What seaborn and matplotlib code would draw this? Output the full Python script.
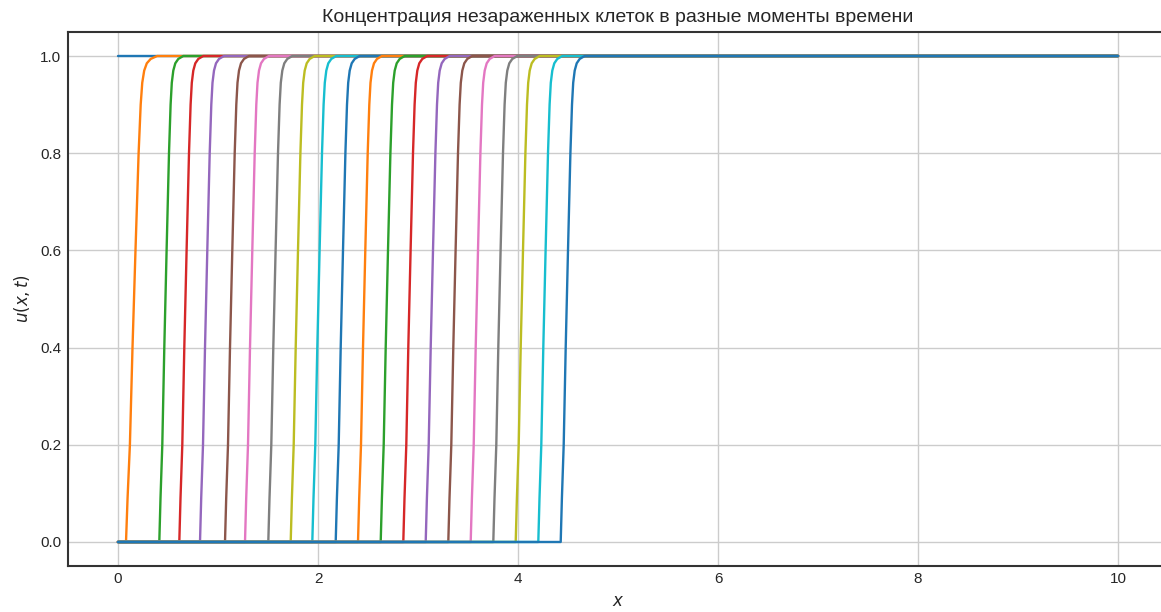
import numpy as np
import pandas as pd
import matplotlib
matplotlib.use("Agg")
import matplotlib.pyplot as plt
import seaborn as sns

# Front foot positions (where u leaves 0) for each time snapshot after t=0
front_start = [0.08, 0.413, 0.613, 0.82, 1.07, 1.27, 1.503, 1.727, 1.943, 2.177,
               2.40, 2.627, 2.853, 3.077, 3.303, 3.527, 3.753, 3.977, 4.203, 4.427]
# Relative width of each front (the earliest one is still smeared out)
front_spread = [1.3] + [1.0] * 19

# Shape of the travelling front: offset from the foot vs. concentration
profile_dx = [0.0, 0.012, 0.03, 0.05, 0.073, 0.097, 0.113, 0.125, 0.14, 0.16, 0.19, 0.24]
profile_u = [0.0, 0.09, 0.2, 0.4, 0.6, 0.8, 0.9, 0.945, 0.97, 0.985, 0.994, 1.0]

x_min, x_max = 0.0, 10.0

rows = []
# t = 0: all cells uninfected
rows.append((0, x_min, 1.0))
rows.append((0, x_max, 1.0))
for k, (x0, s) in enumerate(zip(front_start, front_spread), start=1):
    rows.append((k, x_min, 0.0))
    for dx, u in zip(profile_dx, profile_u):
        rows.append((k, x0 + s * dx, u))
    rows.append((k, x_max, 1.0))

df = pd.DataFrame(rows, columns=["snapshot", "x", "u"])

sns.set_style("whitegrid")
plt.rcParams["font.family"] = ["Liberation Sans", "DejaVu Sans"]
plt.rcParams["axes.edgecolor"] = "0.2"
plt.rcParams["axes.linewidth"] = 1.5

fig = plt.figure(figsize=(11.61, 6.12), dpi=100)
ax = fig.add_axes([0.05857, 0.0747, 0.94746, 0.8735])

n = df["snapshot"].nunique()
sns.lineplot(data=df, x="x", y="u", hue="snapshot",
             palette=sns.color_palette("tab10", n), estimator=None, sort=False,
             linewidth=1.7, legend=False, ax=ax)

ax.set_xlim(-0.5, 10.5)
ax.set_ylim(-0.05, 1.05)
ax.set_xticks([0, 2, 4, 6, 8, 10])
ax.set_yticks([0.0, 0.2, 0.4, 0.6, 0.8, 1.0])
ax.tick_params(labelsize=11, colors="0.15", length=0)
ax.tick_params(axis="y", pad=5)
ax.tick_params(axis="x", pad=4)
ax.grid(True, color="0.8", linewidth=1.0)

ax.set_title("Концентрация незараженных клеток в разные моменты времени",
             fontsize=14, color="0.15", pad=7)
ax.set_xlabel("$x$", fontsize=12, color="0.15", labelpad=6)
ax.set_ylabel("$u(x, t)$", fontsize=12, color="0.15", labelpad=6)

fig.savefig("out.png", dpi=100)
